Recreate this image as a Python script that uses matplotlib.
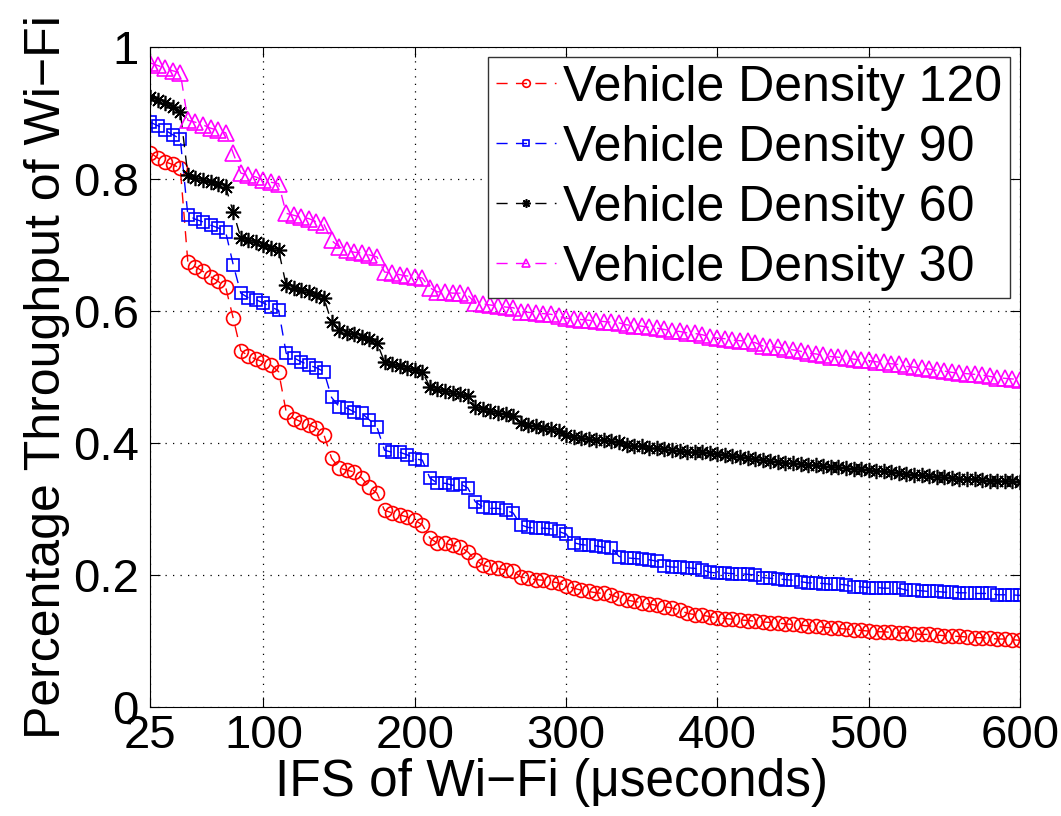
import matplotlib
matplotlib.use('Agg')
import matplotlib.pyplot as plt
import numpy as np

plt.rcParams['font.family'] = ['Liberation Sans', 'DejaVu Sans']

# IFS values (useconds)
ifs = list(range(25, 601, 5))

dens_120 = [
    0.840, 0.832, 0.826, 0.822, 0.816,
    0.674, 0.667, 0.660, 0.652, 0.645, 0.636,
    0.589,
    0.540, 0.532, 0.527, 0.523, 0.518, 0.508,
    0.447, 0.437, 0.432, 0.428, 0.423, 0.412,
    0.377, 0.362, 0.359, 0.356, 0.347, 0.333, 0.324,
    0.298, 0.294, 0.291, 0.288, 0.283, 0.276,
    0.256, 0.248, 0.248, 0.245, 0.243, 0.235,
    0.223, 0.215, 0.212, 0.210, 0.208, 0.206,
    0.197, 0.195, 0.193, 0.192, 0.190,
    0.188, 0.184, 0.180, 0.177, 0.175, 0.173, 0.172, 0.170,
    0.165, 0.162, 0.160, 0.158, 0.156, 0.154, 0.152, 0.150, 0.147, 0.142,
    0.140, 0.139, 0.137, 0.135, 0.134, 0.133, 0.132, 0.131, 0.130, 0.129,
    0.128, 0.127, 0.126, 0.125, 0.124, 0.123, 0.122, 0.121, 0.120, 0.119,
    0.118, 0.117, 0.116, 0.115, 0.114, 0.114, 0.113, 0.112, 0.112, 0.111,
    0.110, 0.110, 0.109, 0.108, 0.107, 0.107, 0.106, 0.105, 0.105, 0.104,
    0.103, 0.103, 0.102, 0.101,
]

dens_90 = [
    0.886, 0.881, 0.874, 0.867, 0.861,
    0.745, 0.739, 0.735, 0.730, 0.726, 0.720,
    0.670,
    0.627, 0.620, 0.617, 0.612, 0.606, 0.601,
    0.536, 0.529, 0.523, 0.518, 0.514, 0.508,
    0.469, 0.455, 0.453, 0.447, 0.445, 0.435, 0.424,
    0.389, 0.386, 0.386, 0.382, 0.376, 0.374,
    0.347, 0.339, 0.339, 0.336, 0.338, 0.332,
    0.311, 0.303, 0.301, 0.301, 0.298, 0.294,
    0.276, 0.272, 0.271, 0.271, 0.270,
    0.266, 0.262, 0.249, 0.246, 0.245, 0.244, 0.242, 0.241,
    0.228, 0.226, 0.225, 0.224, 0.223, 0.221, 0.214, 0.212, 0.212, 0.211,
    0.210, 0.208, 0.204, 0.203, 0.203, 0.202, 0.202, 0.201, 0.200, 0.196,
    0.195, 0.194, 0.193, 0.192, 0.190, 0.188, 0.188, 0.187, 0.186, 0.186,
    0.185, 0.182, 0.182, 0.181, 0.181, 0.180, 0.180, 0.180, 0.177, 0.177,
    0.176, 0.175, 0.175, 0.174, 0.174, 0.173, 0.173, 0.172, 0.172, 0.172,
    0.170, 0.170, 0.170, 0.169,
]

dens_60 = [
    0.924, 0.920, 0.915, 0.909, 0.902,
    0.806, 0.801, 0.798, 0.795, 0.793, 0.788,
    0.750,
    0.711, 0.708, 0.705, 0.700, 0.695, 0.692,
    0.639, 0.635, 0.632, 0.629, 0.624, 0.619,
    0.583, 0.571, 0.567, 0.565, 0.561, 0.557, 0.552,
    0.523, 0.520, 0.517, 0.514, 0.511, 0.508,
    0.485, 0.482, 0.479, 0.476, 0.474, 0.471,
    0.455, 0.452, 0.449, 0.446, 0.444, 0.441,
    0.430, 0.427, 0.425, 0.423, 0.421,
    0.418, 0.412, 0.409, 0.408, 0.406, 0.405, 0.404, 0.403,
    0.401, 0.397, 0.396, 0.395, 0.393, 0.392, 0.391, 0.389, 0.388, 0.387,
    0.386, 0.386, 0.385, 0.384, 0.382, 0.381, 0.379, 0.378, 0.376, 0.374,
    0.372, 0.371, 0.370, 0.369, 0.368, 0.367, 0.366, 0.365, 0.364, 0.363,
    0.362, 0.361, 0.360, 0.359, 0.358, 0.357, 0.356, 0.355, 0.353, 0.352,
    0.351, 0.350, 0.349, 0.348, 0.347, 0.346, 0.346, 0.345, 0.344, 0.343,
    0.343, 0.342, 0.342, 0.341,
]

dens_30 = [
    0.976, 0.972, 0.968, 0.964, 0.961,
    0.889, 0.886, 0.882, 0.877, 0.874, 0.870,
    0.839,
    0.809, 0.806, 0.803, 0.798, 0.795, 0.793,
    0.748, 0.745, 0.742, 0.740, 0.735, 0.731,
    0.707, 0.697, 0.692, 0.689, 0.688, 0.685, 0.682,
    0.659, 0.658, 0.655, 0.653, 0.652, 0.650,
    0.635, 0.629, 0.629, 0.627, 0.627, 0.624,
    0.612, 0.611, 0.609, 0.608, 0.606, 0.605,
    0.599, 0.598, 0.597, 0.596, 0.595,
    0.592, 0.589, 0.588, 0.587, 0.586, 0.585, 0.584, 0.583,
    0.582, 0.579, 0.578, 0.577, 0.575, 0.574, 0.572, 0.570, 0.569, 0.567,
    0.566, 0.564, 0.561, 0.559, 0.558, 0.556, 0.555, 0.554, 0.552, 0.547,
    0.546, 0.545, 0.543, 0.541, 0.539, 0.536, 0.535, 0.533, 0.531, 0.530,
    0.529, 0.527, 0.526, 0.525, 0.523, 0.522, 0.520, 0.519, 0.516, 0.515,
    0.513, 0.512, 0.510, 0.509, 0.507, 0.506, 0.505, 0.504, 0.503, 0.501,
    0.499, 0.498, 0.497, 0.496,
]

labels = ['Vehicle Density 120', 'Vehicle Density 90',
          'Vehicle Density 60', 'Vehicle Density 30']
xticks = [25, 100, 200, 300, 400, 500, 600]
yticks = [0, 0.2, 0.4, 0.6, 0.8, 1]

for s in (dens_120, dens_90, dens_60, dens_30):
    assert len(s) == len(ifs), len(s)

fig = plt.figure(figsize=(10.61, 8.16), dpi=100)
ax = fig.add_axes([0.1414, 0.1336, 0.8199, 0.8088])

styles = [('red', 'o', 10), ('blue', 's', 9), ('black', (8, 2, 0), 11),
          ('magenta', '^', 11)]
series = [dens_120, dens_90, dens_60, dens_30]
for vals, (c, m, ms), lab in zip(series, styles, labels):
    ax.plot(ifs, vals, linestyle=(0, (8, 6)), color=c, lw=1.0, marker=m,
            markersize=ms, markerfacecolor='none', markeredgecolor=c,
            markeredgewidth=1.2, label=lab)

ax.set_xlim(25, 600)
ax.set_ylim(0, 1)
ax.set_xticks(xticks)
ax.set_yticks(yticks)
ax.set_yticklabels(['0', '0.2', '0.4', '0.6', '0.8', '1'])
ax.tick_params(direction='in', top=True, right=True, labelsize=34,
               length=7, width=0.8, pad=8)
ax.tick_params(axis='x', pad=5)
ax.grid(True, color='black', linestyle=(0, (1, 5)), linewidth=0.9)
for sp in ax.spines.values():
    sp.set_linewidth(0.8)

ax.set_xlabel('IFS of Wi\u2212Fi (\u03bcseconds)', fontsize=37, labelpad=0)
ax.xaxis.label.set_x(0.462)
ax.set_ylabel('Percentage Throughput of Wi\u2212Fi', fontsize=36, labelpad=2)

leg = ax.legend(loc='upper right', fontsize=36, handlelength=1.2,
                handletextpad=0.15, borderpad=0.15, labelspacing=0.28,
                markerscale=0.55, fancybox=False, framealpha=1,
                borderaxespad=0.2)
leg.get_frame().set_edgecolor('#333333')
leg.get_frame().set_linewidth(1.0)

fig.savefig('out.png', dpi=100)
